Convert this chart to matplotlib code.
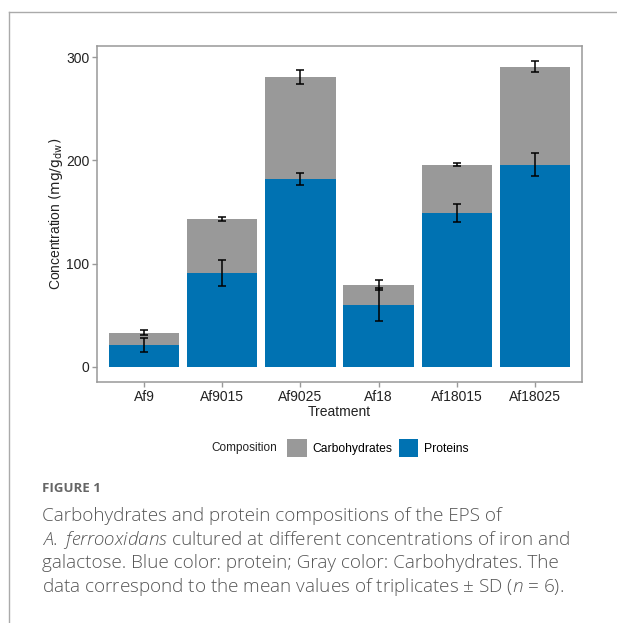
import matplotlib.pyplot as plt
import matplotlib.patches as mpatches
from matplotlib.lines import Line2D
import numpy as np

plt.rcParams['font.family'] = ['Liberation Sans', 'DejaVu Sans']

treatments = ['Af9', 'Af9015', 'Af9025', 'Af18', 'Af18015', 'Af18025']
proteins = np.array([21, 91, 182, 60, 149, 196])
proteins_sd = np.array([7, 12.5, 5.5, 16, 9, 11])
carbs = np.array([12, 52, 99, 19, 47, 95])
carbs_sd = np.array([2.5, 2, 7, 5, 1.5, 5.5])

blue = '#0072B2'
gray = '#999999'

fig = plt.figure(figsize=(6.17, 6.23), dpi=100)

# page frame lines
fig.add_artist(Line2D([9/617, 1], [1 - 12/623] * 2, color='#aaaaaa', lw=1))
fig.add_artist(Line2D([9/617] * 2, [0, 1 - 12/623], color='#aaaaaa', lw=1))

ax = fig.add_axes([97/617, 1 - 382/623, 485/617, 336/623])
x = np.arange(1, len(treatments) + 1)
ax.bar(x, proteins, width=0.9, color=blue, zorder=2)
ax.bar(x, carbs, width=0.9, bottom=proteins, color=gray, zorder=2)
ax.errorbar(x, proteins, yerr=proteins_sd, fmt='none', ecolor='black',
            elinewidth=1.1, capsize=2.6, capthick=1.1, zorder=3)
ax.errorbar(x, proteins + carbs, yerr=carbs_sd, fmt='none', ecolor='black',
            elinewidth=1.1, capsize=2.6, capthick=1.1, zorder=3)

ax.set_xlim(0.4, 6.6)
ax.set_ylim(-14.8, 311)
ax.set_xticks(x)
ax.set_xticklabels(treatments)
ax.set_yticks([0, 100, 200, 300])
for s in ax.spines.values():
    s.set_color('#999999')
    s.set_linewidth(1.1)
ax.tick_params(colors='#999999', length=3.5, width=1, labelsize=10,
               labelcolor='#222222', pad=2)
ax.set_xlabel('Treatment', fontsize=10, color='#222222', labelpad=1)
ax.set_ylabel('Concentration $\\left(\\mathrm{mg/g_{dw}}\\right)$', fontsize=10,
              color='#222222', labelpad=0.5)

# legend
fig.text(244/617, 1 - 448/623, 'Composition', fontsize=8.5, color='#222222',
         ha='center', va='center')
handles = [mpatches.Patch(facecolor=gray, label='Carbohydrates'),
           mpatches.Patch(facecolor=blue, label='Proteins')]
fig.legend(handles=handles, loc='center', bbox_to_anchor=(378/617, 1 - 448/623),
           ncol=2, frameon=False, fontsize=8.7, handlelength=1.6, handleheight=1.9,
           handletextpad=0.5, columnspacing=0.5, borderpad=0)

# caption
plt.rcParams['mathtext.fontset'] = 'custom'
plt.rcParams['mathtext.it'] = 'Open Sans:italic:light'
plt.rcParams['mathtext.rm'] = 'Open Sans:light'
fig.text(42/617, 1 - 488/623, 'FIGURE 1', fontsize=9.5, fontweight='bold',
         color='#666666', family=['Open Sans', 'DejaVu Sans'], va='center')
cap_lines = [
    'Carbohydrates and protein compositions of the EPS of',
    '$\\mathit{A.\\ ferrooxidans}$ cultured at different concentrations of iron and',
    'galactose. Blue color: protein; Gray color: Carbohydrates. The',
    'data correspond to the mean values of triplicates \u00b1 SD ($\\mathit{n}$ = 6).',
]
for i, line in enumerate(cap_lines):
    fig.text(42/617, 1 - (516 + i * 23.7)/623, line, fontsize=13.6,
             color='#555555', family=['Open Sans', 'DejaVu Sans'],
             fontweight='light', va='center')

fig.savefig('out.png', dpi=100)
